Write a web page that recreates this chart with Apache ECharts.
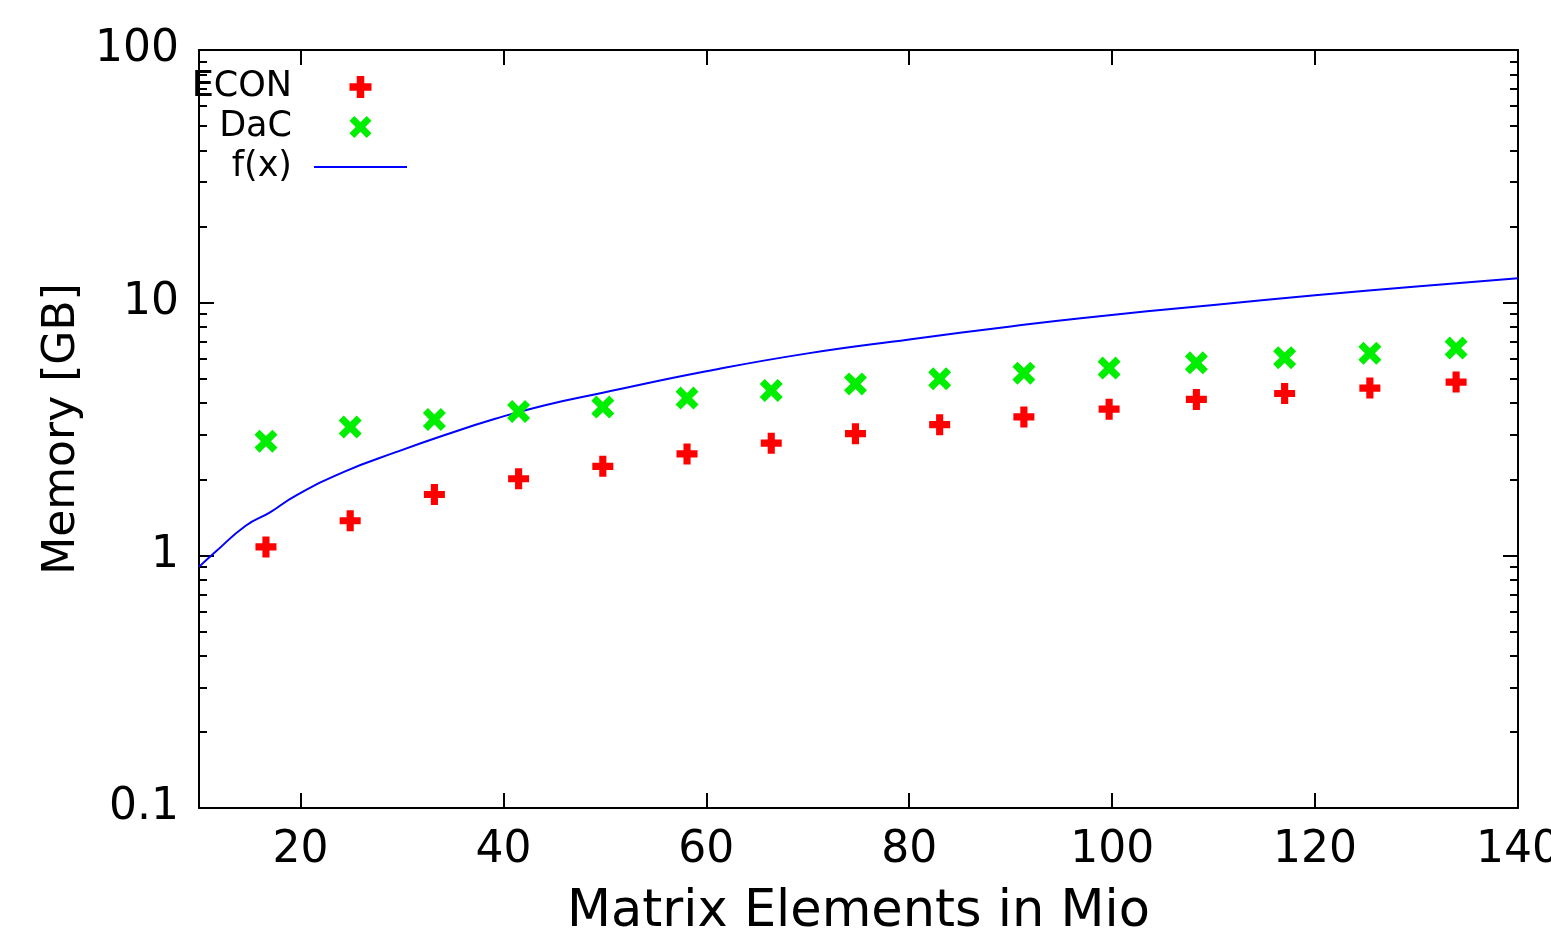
<!DOCTYPE html>
<html>
<head>
<meta charset="utf-8">
<script src="https://cdn.jsdelivr.net/npm/echarts@6/dist/echarts.min.js"></script>
<style>
html,body{margin:0;padding:0;background:#fff;}
#chart{width:1551px;height:936px;}
</style>
</head>
<body>
<div id="chart"></div>
<script>
// ---- data ----
const xValues = [16.6, 24.9, 33.2, 41.5, 49.8, 58.1, 66.4, 74.7, 83.0, 91.3, 99.7, 108.3, 117.0, 125.4, 133.9];
const econValues = [1.08, 1.37, 1.74, 2.01, 2.25, 2.52, 2.78, 3.03, 3.29, 3.53, 3.79, 4.14, 4.37, 4.59, 4.85];
const dacValues = [2.83, 3.22, 3.45, 3.71, 3.86, 4.19, 4.49, 4.77, 5.00, 5.26, 5.51, 5.78, 6.06, 6.31, 6.61];
const fxX = [10, 11.6, 14.6, 17, 19.5, 24.4, 29.4, 34.3, 39.2, 44, 49.8, 60, 70, 80, 90, 96.9, 110, 120, 130, 140];
const fxY = [0.90, 1.03, 1.31, 1.48, 1.72, 2.15, 2.56, 3.00, 3.47, 3.92, 4.40, 5.35, 6.30, 7.15, 8.05, 8.68, 9.80, 10.7, 11.6, 12.5];
const xTickLabels = [20, 40, 60, 80, 100, 120, 140];
const yMinorTicks = [0.2,0.3,0.4,0.5,0.6,0.7,0.8,0.9,2,3,4,5,6,7,8,9,20,30,40,50,60,70,80,90];
const seriesNames = ['ECON', 'DaC', 'f(x)'];
const xTitle = 'Matrix Elements in Mio';
const yTitle = 'Memory [GB]';

const FONT = 'DejaVu Sans';
const plus = 'path://M3.3,0H6.7V3.3H10V6.7H6.7V10H3.3V6.7H0V3.3H3.3Z';
const cross = 'path://M0,2.2L2.2,0L5,2.8L7.8,0L10,2.2L7.2,5L10,7.8L7.8,10L5,7.2L2.2,10L0,7.8L2.8,5Z';

const chart = echarts.init(document.getElementById('chart'), null, {renderer: 'canvas'});

const lineStyle = {color: '#000', width: 2};
function xAxisCfg(pos, showLabels) {
  return {
    type: 'value', position: pos, min: 10, max: 140,
    axisLine: {show: true, onZero: false, lineStyle},
    axisTick: {show: true, inside: true, length: 15, lineStyle, customValues: xTickLabels},
    axisLabel: {show: showLabels, customValues: xTickLabels, showMinLabel: true, showMaxLabel: true,
      fontFamily: FONT, fontSize: 44, color: '#000', margin: 21},
    splitLine: {show: false},
    name: showLabels ? xTitle : '', nameLocation: 'middle', nameGap: 79,
    nameTextStyle: {fontFamily: FONT, fontSize: 51, color: '#000'}
  };
}
function yAxisCfg(pos, showLabels, minor) {
  return {
    type: 'log', logBase: 10, position: pos, min: 0.1, max: 100,
    axisLine: {show: !minor, onZero: false, lineStyle},
    axisTick: minor
      ? {show: true, inside: true, length: 8, lineStyle, customValues: yMinorTicks}
      : {show: true, inside: true, length: 15, lineStyle},
    axisLabel: {show: showLabels && !minor, fontFamily: FONT, fontSize: 44, color: '#000', margin: 20,
      formatter: v => String(v)},
    splitLine: {show: false},
    name: (showLabels && !minor) ? yTitle : '', nameLocation: 'middle', nameGap: 103,
    nameTextStyle: {fontFamily: FONT, fontSize: 44, color: '#000'}
  };
}

const option = {
  backgroundColor: '#fff',
  animation: false,
  grid: {left: 199, right: 33, top: 50, bottom: 128, containLabel: false, outerBoundsMode: 'none'},
  legend: {
    orient: 'vertical', align: 'right', right: 1143, top: 67, padding: 0, itemGap: 0,
    itemWidth: 93, itemHeight: 22, symbolKeepAspect: true,
    textStyle: {fontFamily: FONT, fontSize: 35, color: '#000', lineHeight: 40, padding: [0, 17, 0, 0]},
    data: [
      {name: seriesNames[0]},
      {name: seriesNames[1]},
      {name: seriesNames[2], itemStyle: {color: 'rgba(0,0,0,0)', opacity: 0}}
    ]
  },
  xAxis: [xAxisCfg('bottom', true), xAxisCfg('top', false)],
  yAxis: [yAxisCfg('left', true, false), yAxisCfg('left', false, true),
          yAxisCfg('right', false, false), yAxisCfg('right', false, true)],
  series: [
    {
      name: seriesNames[0], type: 'scatter', symbol: plus, symbolSize: 21, z: 3,
      itemStyle: {color: '#ff0000', opacity: 1},
      data: xValues.map((x, i) => [x, econValues[i]])
    },
    {
      name: seriesNames[1], type: 'scatter', symbol: cross, symbolSize: 23, z: 3,
      itemStyle: {color: '#00ee00', opacity: 1},
      data: xValues.map((x, i) => [x, dacValues[i]])
    },
    {
      name: seriesNames[2], type: 'line', smooth: true, showSymbol: false, symbol: 'none', z: 2,
      lineStyle: {color: '#0000ff', width: 2}, itemStyle: {color: '#0000ff'},
      data: fxX.map((x, i) => [x, fxY[i]])
    }
  ]
};
chart.setOption(option);
</script>
</body>
</html>
